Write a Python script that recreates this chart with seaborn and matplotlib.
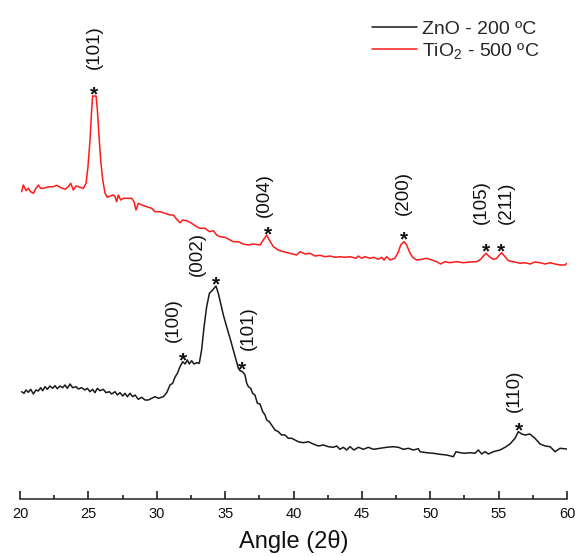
import numpy as np
import matplotlib
matplotlib.use("Agg")
import matplotlib.pyplot as plt
from matplotlib.ticker import MultipleLocator
import seaborn as sns

# ---- XRD patterns: 2-theta (deg) and intensity (a.u.) ----
zno_angle = [
    20.12, 20.29, 20.44, 20.61, 20.78, 20.98, 21.17, 21.34, 21.51, 21.66, 21.83, 22.00,
    22.19, 22.39, 22.56, 22.73, 22.93, 23.12, 23.29, 23.46, 23.66, 23.85, 24.10, 24.27,
    24.51, 24.75, 24.92, 25.12, 25.31, 25.48, 25.66, 25.85, 26.09, 26.29, 26.53, 26.70,
    26.95, 27.12, 27.31, 27.51, 27.68, 27.85, 28.04, 28.24, 28.41, 28.65, 28.90, 29.14,
    29.38, 29.63, 29.87, 30.12, 30.48, 30.73, 30.97, 31.16, 31.33, 31.51, 31.70, 31.90,
    32.07, 32.24, 32.38, 32.55, 32.72, 32.92, 33.11, 33.28, 33.46, 33.65, 33.85, 34.04,
    34.33, 34.50, 34.67, 34.87, 35.11, 35.36, 35.60, 35.80, 35.97, 36.09, 36.28, 36.45,
    36.58, 36.70, 36.87, 37.01, 37.18, 37.36, 37.55, 37.75, 37.92, 38.04, 38.23, 38.40,
    38.65, 38.89, 39.13, 39.38, 39.62, 39.87, 40.11, 40.35, 40.72, 41.08, 41.45, 41.82,
    42.18, 42.55, 42.91, 43.16, 43.40, 43.64, 43.89, 44.13, 44.42, 44.74, 45.11, 45.47,
    45.84, 46.33, 46.81, 47.30, 47.67, 48.03, 48.40, 48.77, 49.13, 49.25, 49.74, 50.23,
    50.71, 51.20, 51.69, 51.88, 52.18, 52.54, 52.91, 53.27, 53.52, 53.76, 54.01, 54.25,
    54.61, 55.10, 55.47, 55.83, 56.20, 56.44, 56.69, 56.93, 57.29, 57.66, 58.03, 58.40,
    58.76, 59.13, 59.49, 59.98,
]
zno_intensity = [
    105.3, 103.7, 107.0, 104.7, 107.7, 103.0, 107.0, 106.0, 109.3, 106.3, 110.3, 107.7,
    111.0, 108.7, 111.3, 108.3, 111.0, 109.3, 112.0, 108.7, 113.0, 109.3, 110.3, 108.0,
    109.3, 107.0, 108.7, 105.3, 107.7, 104.3, 108.7, 106.3, 107.7, 104.3, 105.3, 103.0,
    105.3, 102.0, 104.3, 101.0, 103.7, 100.3, 103.7, 100.3, 102.0, 97.7, 99.7, 97.0,
    97.0, 98.7, 100.3, 98.7, 100.3, 104.3, 112.0, 113.7, 119.7, 123.7, 130.3, 135.3,
    133.0, 137.0, 133.0, 136.3, 133.0, 134.3, 133.7, 147.0, 170.3, 190.3, 203.7, 206.3,
    211.0, 203.7, 193.7, 182.0, 170.3, 158.7, 147.0, 137.0, 128.7, 126.3, 125.3, 122.0,
    113.7, 110.3, 108.7, 103.7, 102.0, 93.7, 93.0, 85.3, 82.0, 77.0, 75.3, 72.0,
    67.0, 65.3, 62.0, 62.0, 58.7, 58.7, 57.0, 55.3, 54.3, 55.3, 53.0, 51.0,
    52.0, 50.3, 49.7, 51.0, 47.7, 49.7, 47.0, 50.3, 47.0, 49.7, 47.7, 49.7,
    47.7, 48.7, 49.7, 50.3, 49.7, 47.7, 48.7, 47.0, 48.3, 45.3, 44.3, 43.7,
    42.7, 42.0, 40.3, 45.3, 44.3, 43.7, 44.3, 43.7, 47.0, 43.0, 45.3, 43.0,
    45.3, 47.0, 49.7, 53.0, 58.7, 65.3, 63.0, 62.0, 63.0, 58.7, 53.0, 51.0,
    50.3, 45.3, 48.7, 48.0,
]

tio2_angle = [
    20.12, 20.24, 20.44, 20.61, 20.78, 20.98, 21.17, 21.34, 21.51, 21.71, 21.95, 22.19,
    22.44, 22.68, 22.93, 23.29, 23.53, 23.71, 23.90, 24.10, 24.39, 24.63, 24.83, 24.97,
    25.12, 25.24, 25.31, 25.56, 25.66, 25.78, 25.90, 26.05, 26.22, 26.39, 26.58, 26.83,
    26.95, 27.07, 27.19, 27.36, 27.56, 27.80, 28.17, 28.34, 28.48, 28.65, 28.90, 29.26,
    29.63, 29.87, 30.24, 30.60, 30.97, 31.21, 31.46, 31.70, 31.90, 32.19, 32.55, 32.92,
    33.16, 33.53, 33.85, 34.14, 34.38, 34.63, 34.99, 35.36, 35.60, 35.97, 36.33, 36.70,
    37.06, 37.55, 37.79, 38.04, 38.23, 38.53, 38.89, 39.26, 39.74, 40.23, 40.48, 40.84,
    41.21, 41.57, 41.94, 42.30, 42.67, 43.03, 43.40, 43.77, 44.13, 44.57, 44.74, 44.98,
    45.23, 45.59, 45.89, 46.20, 46.45, 46.62, 46.81, 47.06, 47.42, 47.67, 47.84, 48.08,
    48.28, 48.47, 48.71, 49.01, 49.37, 49.74, 50.10, 50.47, 50.76, 51.08, 51.44, 51.93,
    52.42, 52.90, 53.39, 53.69, 53.88, 54.08, 54.32, 54.61, 54.86, 55.05, 55.22, 55.47,
    55.71, 56.08, 56.57, 56.93, 57.30, 57.66, 58.03, 58.40, 58.76, 59.13, 59.49, 59.86,
    59.98,
]
tio2_intensity = [
    305.3, 312.0, 306.3, 308.7, 305.3, 303.7, 308.7, 312.0, 308.7, 308.7, 309.7, 310.3,
    310.3, 311.7, 309.7, 307.7, 310.3, 313.7, 307.0, 311.0, 309.7, 308.7, 313.7, 330.3,
    357.0, 387.0, 401.0, 401.0, 387.0, 360.3, 337.0, 317.0, 303.7, 299.7, 301.0, 302.0,
    300.3, 295.3, 302.0, 297.0, 298.7, 298.7, 298.7, 295.3, 287.0, 293.7, 292.0, 290.3,
    288.7, 285.3, 285.3, 283.7, 282.0, 282.0, 277.7, 274.3, 277.0, 276.3, 273.7, 270.3,
    268.7, 268.7, 265.3, 266.3, 262.0, 260.3, 259.7, 257.0, 255.3, 255.3, 253.0, 252.0,
    253.0, 252.0, 257.0, 262.0, 257.0, 250.3, 247.0, 245.3, 243.7, 242.0, 245.3, 243.0,
    243.7, 241.0, 241.7, 240.3, 241.0, 239.7, 240.3, 239.7, 240.3, 238.7, 241.0, 238.7,
    240.3, 238.7, 239.7, 237.7, 239.7, 237.0, 240.3, 237.0, 238.7, 245.3, 252.0, 255.3,
    252.0, 245.3, 239.7, 237.0, 237.7, 238.7, 237.0, 235.3, 233.0, 235.3, 234.3, 235.3,
    234.3, 235.0, 235.3, 237.7, 241.0, 243.7, 240.3, 237.7, 238.7, 242.0, 244.3, 240.3,
    236.3, 235.3, 233.7, 234.3, 233.0, 235.0, 234.3, 233.0, 234.3, 233.0, 232.0, 232.0,
    233.7,
]

# Miller indices of the marked reflections
tio2_peaks = ["(101)", "(004)", "(200)", "(105)", "(211)"]
tio2_peak_angle = [25.43, 38.10, 48.08, 54.08, 55.20]
zno_peaks = ["(100)", "(002)", "(101)", "(110)"]
zno_peak_angle = [31.92, 34.33, 36.23, 56.50]

# label offsets from the asterisk (pixels): dx, dy
tio2_label_off = [(0, 13), (-3, 6), (-1, 13), (-5, 15), (5, 15)]
zno_label_off = [(-10, 6), (-19, -4), (6, 7), (-5, 6)]

sns.set_style("ticks")
plt.rcParams["font.family"] = ["Liberation Sans", "DejaVu Sans"]
plt.rcParams["mathtext.fontset"] = "custom"
plt.rcParams["mathtext.rm"] = "Liberation Sans"
plt.rcParams["mathtext.default"] = "regular"
plt.rcParams["xtick.bottom"] = True
plt.rcParams["xtick.minor.visible"] = True

W, H = 576, 557
fig = plt.figure(figsize=(W / 100, H / 100), dpi=100)
ax = fig.add_axes([20 / W, (H - 499) / H, 547 / W, 499 / H])

sns.lineplot(x=zno_angle, y=zno_intensity, color="#1a1a1a", linewidth=1.1,
             label="ZnO - 200 ºC", ax=ax)
sns.lineplot(x=tio2_angle, y=tio2_intensity, color="#ff1a1a", linewidth=1.1,
             label="TiO$_2$ - 500 ºC", ax=ax)

ax.set_xlim(20, 60)
ax.set_ylim(-2, 497)
ax.set_yticks([])
ax.set_ylabel("")
for s in ("left", "top", "right"):
    ax.spines[s].set_visible(False)
ax.spines["bottom"].set_color("#222222")
ax.spines["bottom"].set_linewidth(1.1)
ax.xaxis.set_ticks_position("bottom")
ax.xaxis.set_major_locator(MultipleLocator(5))
ax.xaxis.set_minor_locator(MultipleLocator(2.5))
ax.tick_params(axis="x", which="major", direction="in", length=5.5, width=1.2,
               color="#222222", labelsize=10.5, pad=5.5, bottom=True,
               labelcolor="#111111")
ax.tick_params(axis="x", which="minor", direction="in", length=3, width=1.2,
               color="#222222", bottom=True)
ax.set_xlabel("Angle (2θ)", fontsize=17, labelpad=7, color="#111111")


def mark_peaks(angles, labels, offsets, xs, ys):
    for ang, lab, (dx, dy) in zip(angles, labels, offsets):
        yv = np.interp(ang, xs, ys)
        ax.annotate("*", xy=(ang, yv), xytext=(0, -4), textcoords="offset pixels",
                    ha="center", va="baseline", fontsize=15, fontweight="bold",
                    color="#111111")
        ax.annotate(lab, xy=(ang, yv), xytext=(dx, 14 + dy),
                    textcoords="offset pixels", ha="center", va="bottom",
                    rotation=90, fontsize=13.5, color="#111111")


mark_peaks(tio2_peak_angle, tio2_peaks, tio2_label_off, tio2_angle, tio2_intensity)
mark_peaks(zno_peak_angle, zno_peaks, zno_label_off, zno_angle, zno_intensity)

ax.legend(loc="upper left", bbox_to_anchor=(372 / W, (H - 20) / H),
          bbox_transform=fig.transFigure, frameon=False, fontsize=14,
          handlelength=2.3, handletextpad=0.26, labelspacing=0.15,
          borderpad=0, borderaxespad=0)

fig.savefig("out.png", dpi=100)
